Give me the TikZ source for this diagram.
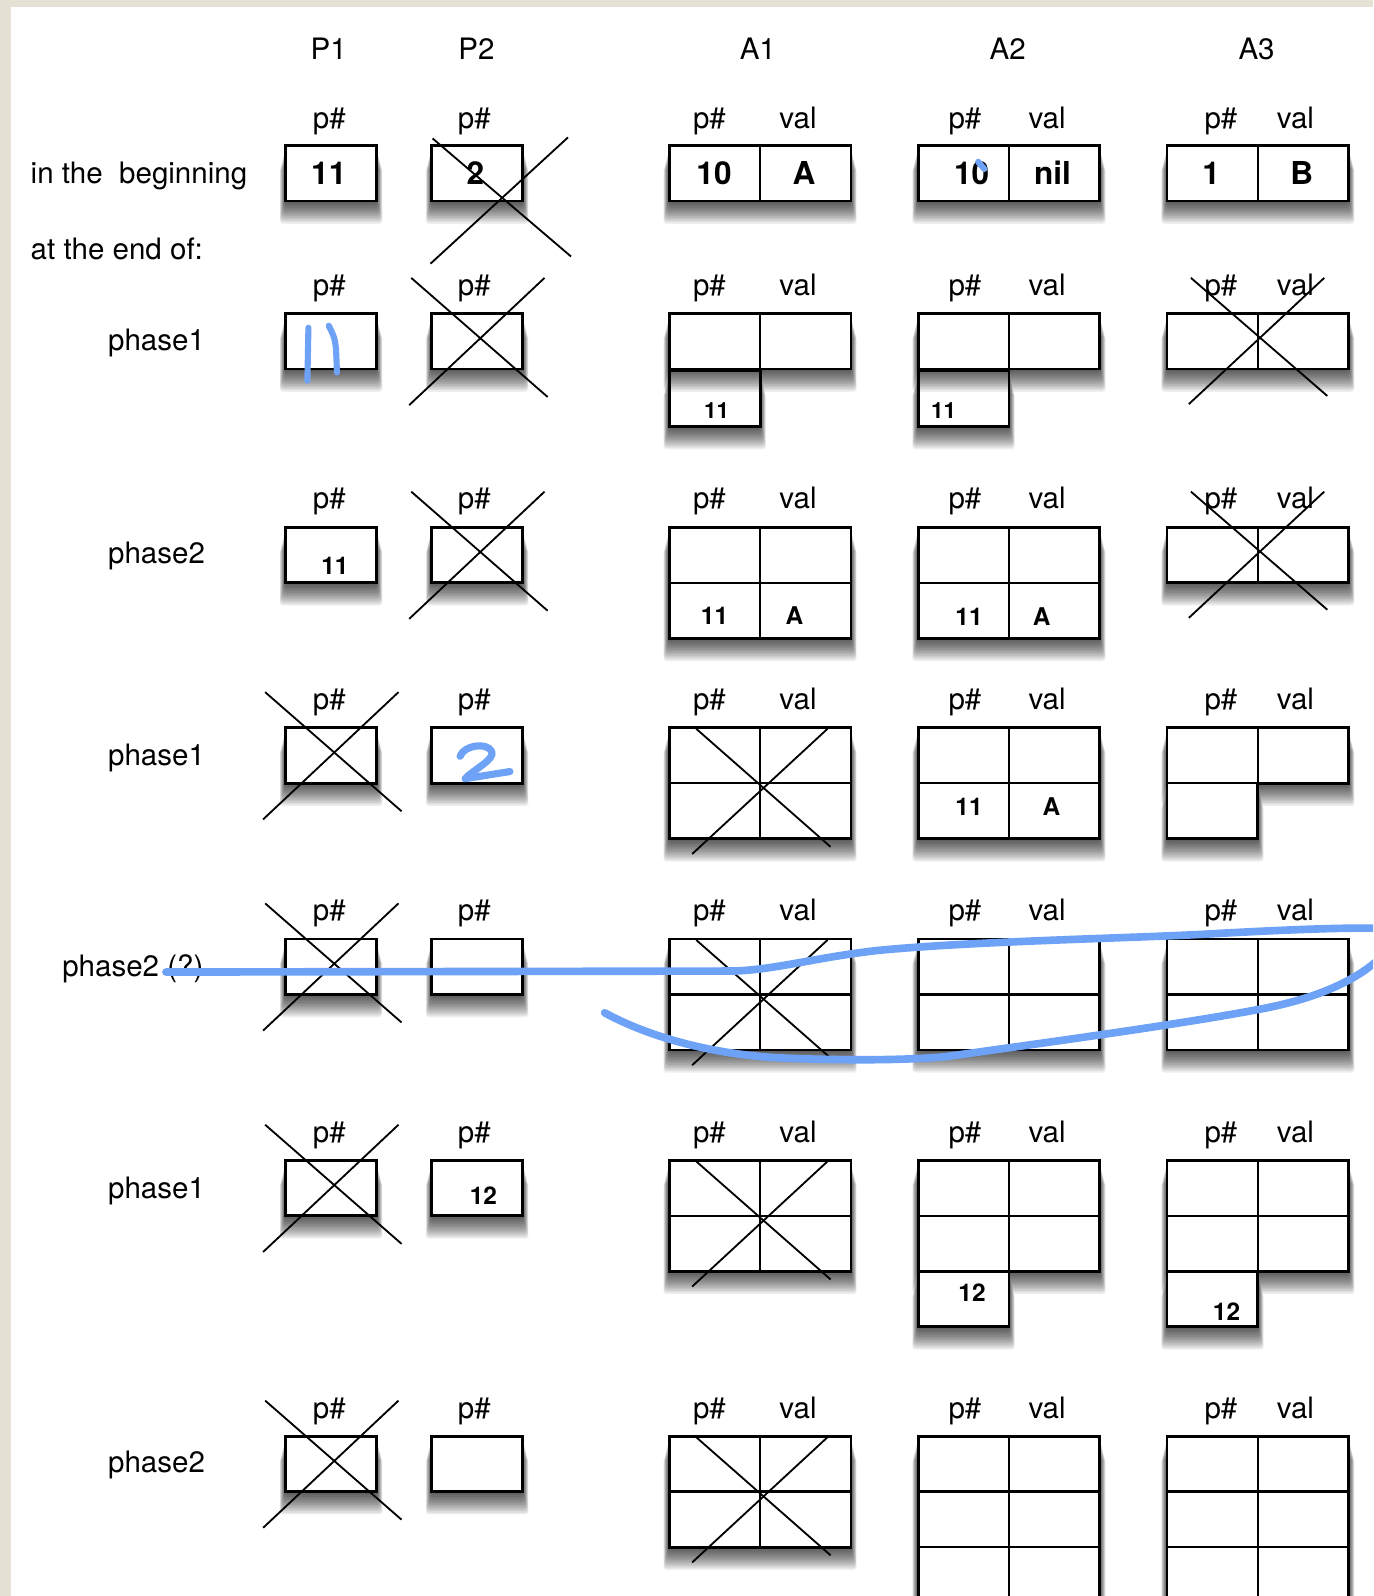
\documentclass[tikz,border=0pt]{standalone}
\usepackage{fontspec}
\setmainfont{TeX Gyre Heros}
\definecolor{handblue}{RGB}{110,162,246}
\definecolor{pagebeige}{RGB}{229,225,212}
\tikzset{
  lbl/.style={font=\fontsize{29}{30}\selectfont, anchor=base, inner sep=0pt},
  lbll/.style={lbl, anchor=base west},
  bignum/.style={font=\bfseries\fontsize{31}{32}\selectfont, anchor=base, inner sep=0pt},
  smallnum/.style={font=\bfseries\fontsize{24}{25}\selectfont, anchor=base, inner sep=0pt},
  tinynum/.style={font=\bfseries\fontsize{22}{23}\selectfont, anchor=base, inner sep=0pt},
  boxcell/.style={draw=black, fill=white, line width=2.8pt},
  shadowlayer/.style={fill=black, opacity=0.065, rounded corners=3pt},
  divline/.style={draw=black, line width=2.4pt},
  xline/.style={draw=black, line width=1.8pt},
  hand/.style={draw=handblue, line width=7.5pt, line cap=round, line join=round},
}
% soft drop shadow of a rectangle x1,y1,x2,y2 (y downwards)
\newcommand\shad[4]{\foreach \k in {1,...,14}{\path[shadowlayer] ({#1-0.4*\k},{#2+1.6*\k}) rectangle ({#3+0.4*\k},{#4+1.6*\k});}}
% P-box: left x, top y
\newcommand\Pbox[2]{\shad{#1}{#2}{#1+89.5}{#2+54.5}\path[boxcell] (#1,#2) rectangle ++(89.5,54.5);}
% single cell (89.25 wide)
\newcommand\Cellbox[2]{\shad{#1}{#2}{#1+89.25}{#2+55}\path[boxcell] (#1,#2) rectangle ++(89.25,55);}
% A-grid: left x, top y, number of rows
\newcommand\Arow[3]{\shad{#1}{#2}{#1+178.5}{#2+#3*54.5}\path[boxcell] (#1,#2) rectangle ++(178.5,{#3*54.5});
  \draw[divline] ({#1+89.25},#2) -- ++(0,{#3*54.5});}
\newcommand\Hline[2]{\draw[divline] (#1,#2) -- ++(178.5,0);}
% crosses
\newcommand\PX[2]{\draw[xline] ({#1-20},{#2-35}) -- ({#1+114},{#2+82});
  \draw[xline] ({#1+111},{#2-35}) -- ({#1-22},{#2+90});}
\newcommand\GX[2]{\draw[xline] ({#1+26.5},{#2+1}) -- ({#1+158.5},{#2+117});
  \draw[xline] ({#1+155.5},{#2+1}) -- ({#1+22.5},{#2+124});}
\newcommand\SX[2]{\draw[xline] ({#1+23.5},{#2-35}) -- ({#1+157.5},{#2+81});
  \draw[xline] ({#1+154.5},{#2-35}) -- ({#1+21.5},{#2+89});}
% L-shape: two full rows + lower-left cell
\newcommand\LtwoA[2]{\shad{#1}{#2}{#1+178.5}{#2+109}\shad{#1}{#2+109}{#1+89.25}{#2+163.5}
  \path[boxcell] (#1,#2) -- ++(178.5,0) -- ++(0,109) -- ++(-89.25,0) -- ++(0,54.5) -- ++(-89.25,0) -- cycle;
  \draw[divline] ({#1+89.25},#2) -- ++(0,109);
  \Hline{#1}{#2+54.5}
  \draw[divline] (#1,{#2+109}) -- ++(89.25,0);}
\begin{document}
\begin{tikzpicture}[x=1pt,y=-1pt]
\useasboundingbox (0,0) rectangle (1349,1568);
\clip (0,0) rectangle (1349,1568);
\fill[pagebeige] (0,0) rectangle (1349,1568);
\fill[white] (10.5,7.2) rectangle (1349,1568);

% ---------- column headers
\node[lbl] (hP1) at (323,58) {P1};
\node[lbl] (hP2) at (468,58) {P2};
\node[lbl] (hA1) at (744.5,58) {A1};
\node[lbl] (hA2) at (990,58) {A2};
\node[lbl] (hA3) at (1234.5,58) {A3};

% ---------- p# / val labels of every row
\foreach \b [count=\i] in {126,290,500,697,904,1122,1393.5} {
  \node[lbl] (pa\i) at (323.5,\b) {p\#};
  \node[lbl] (pb\i) at (466,\b) {p\#};
  \node[lbl] (aa\i) at (697,\b) {p\#};
  \node[lbl] (av\i) at (784,\b) {val};
  \node[lbl] (ba\i) at (948,\b) {p\#};
  \node[lbl] (bv\i) at (1028.7,\b) {val};
  \node[lbl] (ca\i) at (1199.5,\b) {p\#};
  \node[lbl] (cv\i) at (1272.7,\b) {val};
}

% ---------- row labels
\node[lbll] (lbeg) at (30,180) {in the\ \ beginning};
\node[lbll] (lend) at (30,255) {at the end of:};
\node[lbll] (r1) at (106,344) {phase1};
\node[lbll] (r2) at (106,554) {phase2};
\node[lbll] (r3) at (106,752) {phase1};
\node[lbll] (r4) at (61,959) {phase2 (?)};
\node[lbll] (r5) at (106,1177) {phase1};
\node[lbll] (r6) at (106,1447) {phase2};

% ---------- row 0: in the beginning
\Pbox{280.5}{143} \Pbox{424}{143}
\Arow{657.5}{143}{1} \Arow{902}{143}{1} \Arow{1146.5}{143}{1}
\node[bignum] (n01) at (323,181) {11};
\node[bignum] (n02) at (467,181) {2};
\node[bignum] (n03) at (701.5,181) {10};
\node[bignum] (n04) at (790,181) {A};
\node[bignum] (n05) at (954.6,181) {10};
\node[bignum] (n06) at (1034,181) {nil};
\node[bignum] (n07) at (1190,181) {1};
\node[bignum] (n08) at (1279,181) {B};
\draw[xline] (425,136) -- (561,252);
\draw[xline] (558,135) -- (423,259);

% ---------- row 1: phase1
\Pbox{280.5}{308} \Pbox{424}{308}
\Cellbox{657.5}{364}
\Arow{657.5}{308}{1}
\Cellbox{902}{364}
\Arow{902}{308}{1}
\Arow{1146.5}{308}{1}
\node[tinynum] (n11) at (704,411) {11};
\node[tinynum] (n12) at (927,411) {11};
\PX{424}{308}
\SX{1146.5}{308}

% ---------- row 2: phase2
\Pbox{280.5}{518} \Pbox{424}{518}
\Arow{657.5}{518}{2} \Hline{657.5}{572.5}
\Arow{902}{518}{2} \Hline{902}{572.5}
\Arow{1146.5}{518}{1}
\node[smallnum] (n21) at (329,564) {11};
\node[smallnum] (n22) at (702,614) {11};
\node[smallnum] (n23) at (780.5,614) {A};
\node[smallnum] (n24) at (952,615) {11};
\node[smallnum] (n25) at (1023.5,615) {A};
\PX{424}{518}
\SX{1146.5}{518}

% ---------- row 3: phase1
\Pbox{280.5}{715} \Pbox{424}{715}
\Arow{657.5}{715}{2} \Hline{657.5}{769.5}
\Arow{902}{715}{2} \Hline{902}{769.5}
\shad{1146.5}{715}{1325}{769.5}\shad{1146.5}{769.5}{1235.75}{824}
\path[boxcell] (1146.5,715) -- ++(178.5,0) -- ++(0,54.5) -- ++(-89.25,0) -- ++(0,54.5) -- ++(-89.25,0) -- cycle;
\draw[divline] (1235.75,715) -- ++(0,54.5);
\draw[divline] (1146.5,769.5) -- ++(89.25,0);
\node[smallnum] (n31) at (952,801) {11};
\node[smallnum] (n32) at (1033,801) {A};
\PX{280.5}{715}
\GX{657.5}{715}

% ---------- row 4: phase2 (?)
\Pbox{280.5}{922.5} \Pbox{424}{922.5}
\Arow{657.5}{922.5}{2} \Hline{657.5}{977}
\Arow{902}{922.5}{2} \Hline{902}{977}
\Arow{1146.5}{922.5}{2} \Hline{1146.5}{977}
\PX{280.5}{922.5}
\GX{657.5}{922.5}

% ---------- row 5: phase1
\Pbox{280.5}{1140} \Pbox{424}{1140}
\Arow{657.5}{1140}{2} \Hline{657.5}{1194.5}
\LtwoA{902}{1140}
\LtwoA{1146.5}{1140}
\node[smallnum] (n51) at (475,1183) {12};
\node[smallnum] (n52) at (955,1279) {12};
\node[smallnum] (n53) at (1205,1297) {12};
\PX{280.5}{1140}
\GX{657.5}{1140}

% ---------- row 6: phase2
\Pbox{280.5}{1411} \Pbox{424}{1411}
\Arow{657.5}{1411}{2} \Hline{657.5}{1465.5}
\Arow{902}{1411}{3} \Hline{902}{1465.5} \Hline{902}{1520}
\Arow{1146.5}{1411}{3} \Hline{1146.5}{1465.5} \Hline{1146.5}{1520}
\PX{280.5}{1411}
\GX{657.5}{1411}

% ---------- blue handwriting
\draw[hand, line width=6pt] (961,159) -- (967,166);
\draw[hand, line width=6pt] (303,322) -- (302,374);
\draw[hand, line width=6pt] (323,320) .. controls (330,334) .. (331,366);
\draw[hand, line width=7pt] (452,743) .. controls (456,732) and (478,729) .. (483,738)
   .. controls (487,746) and (465,756) .. (457,765) -- (501,758);
\draw[hand] (163,955) -- (720,954) .. controls (760,953) and (800,941) .. (860,934)
   .. controls (950,925) and (1100,922) .. (1180,918) .. controls (1250,914) and (1320,911) .. (1355,912);
\draw[hand] (594,995) .. controls (640,1020) and (700,1035) .. (760,1039)
   .. controls (820,1042) and (890,1042) .. (930,1038) .. controls (1000,1028) and (1150,1008) .. (1235,992)
   .. controls (1290,982) and (1330,965) .. (1355,942);
\end{tikzpicture}
\end{document}
